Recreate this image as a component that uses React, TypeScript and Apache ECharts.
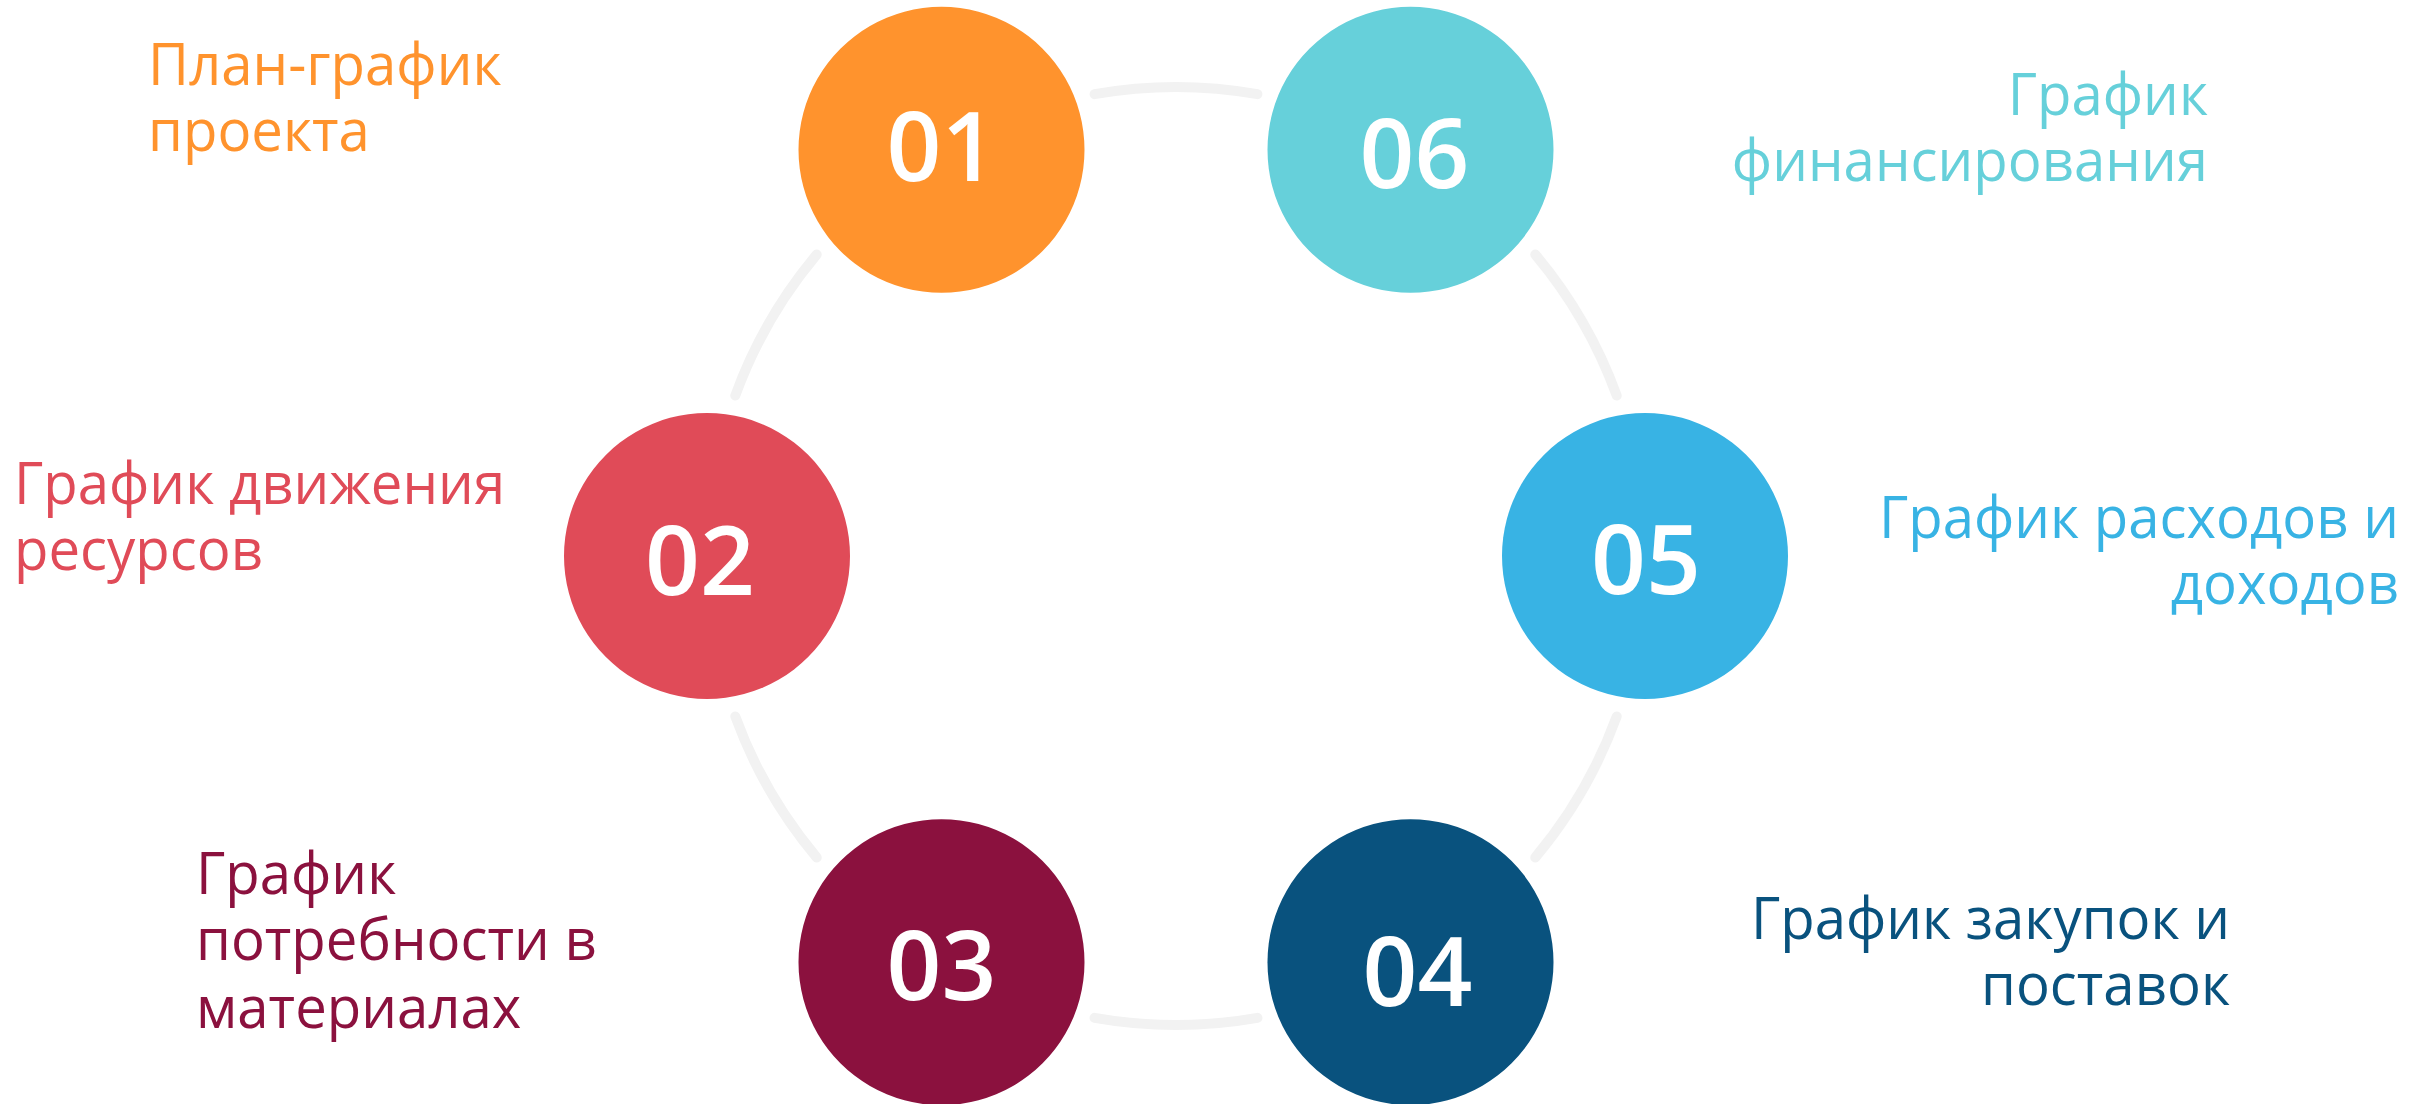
import React, { useEffect, useRef } from "react";
import * as echarts from "echarts";

// ---- data ----
const stepNumbers = ["01", "02", "03", "04", "05", "06"];
const stepAngles = [120, 180, 240, 300, 0, 60];
const stepTitles = [
  "План-график\nпроекта",
  "График движения\nресурсов",
  "График\nпотребности в\nматериалах",
  "График закупок и\nпоставок",
  "График расходов и\nдоходов",
  "График\nфинансирования",
];
const stepColors = ["#FF932D", "#E04B58", "#8B113E", "#09527E", "#38B3E4", "#66D0DA"];
const connectorAngles = [30, 90, 150, 210, 270, 330];

// ---- layout ----
const RING_CENTER = [1176, 556];
const RING_RADIUS = 469;
const CIRCLE_SIZE = 286;
const CONNECTOR_SPAN = 20;
const CONNECTOR_WIDTH = 10;
const CONNECTOR_COLOR = "#F2F2F2";
const FONT = "Open Sans";
const TITLE_SCALE_X = 0.955;
const numberOffsets = [
  [0, -6],
  [-7, 1],
  [0, 0],
  [7, 6],
  [1, 0],
  [4, 1],
];
const titleLayout = [
  { x: 148, y: 28, align: "left" },
  { x: 14, y: 447, align: "left" },
  { x: 196, y: 837, align: "left" },
  { x: 2230, y: 882, align: "right" },
  { x: 2399, y: 481, align: "right" },
  { x: 2208, y: 58, align: "right" },
];

export default function App() {
  const ref = useRef<HTMLDivElement>(null);
  useEffect(() => {
    if (!ref.current) return;
    const chart = echarts.init(ref.current, null, { renderer: "svg" });
    const option: any = {
      animation: false,
      backgroundColor: "#ffffff",
      polar: { center: RING_CENTER, radius: RING_RADIUS },
      angleAxis: {
        type: "value",
        min: 0,
        max: 360,
        startAngle: 0,
        clockwise: false,
        show: false,
      },
      radiusAxis: { type: "value", min: 0, max: 1, show: false },
      series: [
        {
          type: "custom",
          coordinateSystem: "polar",
          silent: true,
          z: 1,
          data: connectorAngles.map((a) => [1, a]),
          renderItem: (params: any, api: any) => {
            const r = api.value(0);
            const mid = api.value(1);
            const c = api.coord([0, mid]);
            const p1 = api.coord([r, mid - CONNECTOR_SPAN / 2]);
            const p2 = api.coord([r, mid + CONNECTOR_SPAN / 2]);
            const rad = Math.hypot(p1[0] - c[0], p1[1] - c[1]);
            const sa = Math.atan2(p1[1] - c[1], p1[0] - c[0]);
            const ea = Math.atan2(p2[1] - c[1], p2[0] - c[0]);
            return {
              type: "arc",
              shape: { cx: c[0], cy: c[1], r: rad, startAngle: sa, endAngle: ea, clockwise: false },
              style: {
                stroke: CONNECTOR_COLOR,
                lineWidth: CONNECTOR_WIDTH,
                lineCap: "round",
                fill: "none",
              },
            };
          },
        },
        {
          type: "scatter",
          coordinateSystem: "polar",
          silent: true,
          z: 2,
          symbol: "circle",
          symbolSize: CIRCLE_SIZE,
          data: stepNumbers.map((n, i) => ({
            value: [1, stepAngles[i]],
            name: n,
            itemStyle: { color: stepColors[i], opacity: 1 },
            label: { offset: numberOffsets[i] },
          })),
          label: {
            show: true,
            position: "inside",
            formatter: (p: any) => p.name,
            color: "#ffffff",
            fontSize: 96,
            fontWeight: 600,
            fontFamily: FONT,
          },
        },
      ],
      graphic: stepTitles.map((t, i) => ({
        type: "text",
        x: titleLayout[i].x,
        y: titleLayout[i].y,
        scaleX: TITLE_SCALE_X,
        silent: true,
        style: {
          text: t,
          fill: stepColors[i],
          fontSize: 59,
          fontFamily: FONT,
          fontWeight: 400,
          align: titleLayout[i].align,
          verticalAlign: "top",
          lineHeight: 67,
        },
      })),
    };
    chart.setOption(option);
    return () => chart.dispose();
  }, []);
  return (
    <div
      ref={ref}
      style={{ position: "absolute", left: 0, top: 0, width: 2422, height: 1104 }}
    />
  );
}
